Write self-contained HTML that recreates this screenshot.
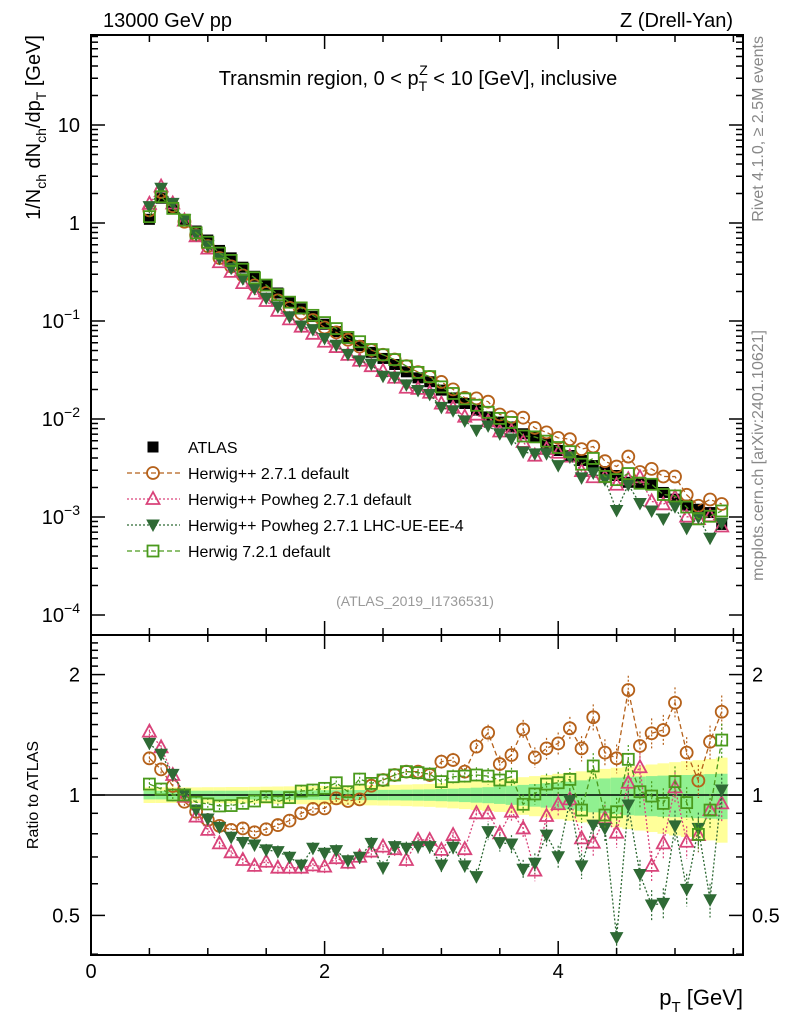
<!DOCTYPE html>
<html><head><meta charset="utf-8"><style>
body{margin:0;background:#fff;}
svg{display:block;font-family:"Liberation Sans",sans-serif;}
</style></head><body>
<svg id="c" width="786" height="1024" xmlns="http://www.w3.org/2000/svg"></svg>
<script>
const xs = [0.5,0.6,0.7,0.8,0.9,1.0,1.1,1.2,1.3,1.4,1.5,1.6,1.7,1.8,1.9,2.0,2.1,2.2,2.3,2.4,2.5,2.6,2.7,2.8,2.9,3.0,3.1,3.2,3.3,3.4,3.5,3.6,3.7,3.8,3.9,4.0,4.1,4.2,4.3,4.4,4.5,4.6,4.7,4.8,4.9,5.0,5.1,5.2,5.3,5.4];
const atlas = [1.09,1.79,1.41,1.07,0.828,0.67,0.525,0.441,0.354,0.286,0.235,0.193,0.158,0.133,0.111,0.0927,0.078,0.0667,0.0561,0.0479,0.0415,0.036,0.0303,0.0263,0.024,0.0197,0.0164,0.0144,0.0123,0.0105,0.0093,0.0083,0.00707,0.00653,0.00558,0.00477,0.00424,0.00377,0.00335,0.00291,0.00265,0.00226,0.00217,0.00217,0.00178,0.00152,0.00132,0.0012,0.00111,0.00084];
const rHpp = [1.235,1.159,1.053,0.962,0.908,0.866,0.837,0.818,0.825,0.807,0.821,0.841,0.863,0.900,0.923,0.926,0.981,0.966,0.975,1.055,1.090,1.122,1.144,1.144,1.122,1.212,1.223,1.144,1.321,1.431,1.195,1.259,1.459,1.242,1.308,1.346,1.468,1.308,1.564,1.276,1.235,1.83,1.326,1.427,1.454,1.701,1.276,1.086,1.359,1.615];
const rPow = [1.440,1.316,1.122,0.990,0.883,0.818,0.757,0.719,0.688,0.665,0.681,0.658,0.658,0.658,0.667,0.662,0.695,0.677,0.701,0.722,0.743,0.732,0.688,0.772,0.772,0.729,0.794,0.732,0.900,0.900,0.802,0.908,0.825,0.647,0.886,0.948,0.975,0.779,0.760,0.875,0.805,1.073,1.173,0.665,0.757,1.045,0.764,0.794,0.917,0.953];
const rLhc = [1.346,1.264,1.126,1.006,0.917,0.871,0.830,0.784,0.761,0.750,0.729,0.722,0.699,0.668,0.736,0.715,0.726,0.685,0.699,0.757,0.658,0.743,0.736,0.743,0.743,0.668,0.740,0.665,0.625,0.810,0.760,0.754,0.652,0.675,0.794,0.701,0.968,0.665,0.841,0.825,0.440,0.944,0.633,0.531,0.536,0.837,0.581,0.825,0.547,1.029];
const rH7 = [1.065,1.035,1.0,1.0,0.959,0.950,0.939,0.941,0.953,0.966,0.990,0.962,0.985,1.023,1.029,1.039,1.073,1.019,1.096,1.069,1.090,1.122,1.144,1.137,1.128,1.080,1.111,1.115,1.122,1.115,1.090,1.111,0.948,1.006,1.065,1.073,1.094,0.917,1.182,0.891,0.908,1.228,1.019,0.994,0.953,1.080,0.957,0.797,0.917,1.372];
const statErr = [.025,.025,.025,.025,.025,.025,.025,.025,.025,.026,.026,.026,.027,.027,.027,.028,.028,.028,.029,.029,.030,.030,.031,.032,.033,.035,.037,.040,.043,.046,.050,.055,.060,.065,.070,.075,.080,.088,.095,.100,.105,.110,.112,.115,.118,.120,.122,.125,.128,.130];
const totErr = [.045,.045,.045,.045,.045,.046,.046,.047,.047,.048,.049,.050,.051,.052,.053,.054,.055,.056,.057,.058,.059,.060,.062,.064,.066,.070,.074,.078,.083,.088,.093,.100,.108,.115,.122,.130,.138,.146,.155,.162,.170,.178,.185,.192,.200,.208,.215,.222,.230,.240];
const xTicks = [0,2,4];
const yDecades = [-4,-3,-2,-1,0,1];
const ratioTicks = [0.5,1,2];

const NS="http://www.w3.org/2000/svg";
const svg=document.getElementById('c');
function el(t,a,p){const e=document.createElementNS(NS,t);for(const k in a)e.setAttribute(k,a[k]);(p||svg).appendChild(e);return e;}
const L=91,R=743,T=35,MB=635,RB=955;
const X=v=>L+v*116.8;
const Y=v=>223-98*Math.log10(v);
const RY=v=>795-400*Math.log10(v);
const C={hpp:'#b5611a',pow:'#d9437a',lhc:'#2f6a35',h7:'#4a9a1c'};

// clip
const defs=el('defs',{});
const cp1=el('clipPath',{id:'cm'},defs);el('rect',{x:L,y:T,width:R-L,height:MB-T},cp1);
const cp2=el('clipPath',{id:'cr'},defs);el('rect',{x:L,y:MB,width:R-L,height:RB-MB},cp2);

// ratio band
const gb=el('g',{'clip-path':'url(#cr)'});


xs.forEach((x,i)=>{
  el('rect',{x:X(x-0.05),width:X(0.1)-L,y:RY(1+totErr[i]),height:RY(1-totErr[i])-RY(1+totErr[i]),fill:'#ffff99'},gb);
});
xs.forEach((x,i)=>{
  el('rect',{x:X(x-0.05),width:X(0.1)-L,y:RY(1+statErr[i]),height:RY(1-statErr[i])-RY(1+statErr[i]),fill:'#90f090'},gb);
});
el('line',{x1:L,x2:R,y1:RY(1),y2:RY(1),stroke:'#000','stroke-width':1.5});

function marker(g,type,cx,cy,col){
  if(type==='sq') el('rect',{x:cx-5.5,y:cy-5.5,width:11,height:11,fill:'none',stroke:col,'stroke-width':1.8},g);
  else if(type==='ci') el('circle',{cx,cy,r:6,fill:'none',stroke:col,'stroke-width':1.8},g);
  else if(type==='tu') el('polygon',{points:`${cx},${cy-7} ${cx-6.5},${cy+5} ${cx+6.5},${cy+5}`,fill:'none',stroke:col,'stroke-width':1.8},g);
  else if(type==='td') el('polygon',{points:`${cx-6},${cy-5} ${cx+6},${cy-5} ${cx},${cy+6}`,fill:col,stroke:col,'stroke-width':1},g);
  else if(type==='bs') el('rect',{x:cx-5.5,y:cy-5.5,width:11,height:11,fill:'#000'},g);
}
const series=[
 {name:'herwigpp-271',r:rHpp,col:C.hpp,m:'ci',dash:'5,3'},
 {name:'herwigpp-powheg-default',r:rPow,col:C.pow,m:'tu',dash:'2,2'},
 {name:'herwigpp-powheg-lhc-ue',r:rLhc,col:C.lhc,m:'td',dash:'2,2'},
 {name:'herwig7-default',r:rH7,col:C.h7,m:'sq',dash:'5,3'}
];
// main plot data
const gm=el('g',{'clip-path':'url(#cm)'});
const ga=el('g',{},gm);


xs.forEach((x,i)=>{
  el('line',{x1:X(x),x2:X(x),y1:Y(atlas[i]*1.05),y2:Y(atlas[i]*0.95),stroke:'#000','stroke-width':1},ga);
  marker(ga,'bs',X(x),Y(atlas[i]));
});
series.forEach(s=>{
  const g=el('g',{},gm);
  
  
  el('polyline',{points:xs.map((x,i)=>X(x)+','+Y(atlas[i]*s.r[i])).join(' '),fill:'none',stroke:s.col,'stroke-width':1.3,'stroke-dasharray':s.dash},g);
  xs.forEach((x,i)=>marker(g,s.m,X(x),Y(atlas[i]*s.r[i]),s.col));
});
// ratio series
const gr=el('g',{'clip-path':'url(#cr)'});
series.forEach(s=>{
  const g=el('g',{},gr);
  
  
  el('polyline',{points:xs.map((x,i)=>X(x)+','+RY(s.r[i])).join(' '),fill:'none',stroke:s.col,'stroke-width':1.3,'stroke-dasharray':s.dash},g);
  xs.forEach((x,i)=>{
    const e=0.02+statErr[i]*0.6;
    el('line',{x1:X(x),x2:X(x),y1:RY(s.r[i]*(1+e)),y2:RY(s.r[i]*(1-e)),stroke:s.col,'stroke-width':1.2,'stroke-dasharray':'2,2'},g);
    marker(g,s.m,X(x),RY(s.r[i]),s.col);
  });
});

// frames
el('rect',{x:L,y:T,width:R-L,height:MB-T,fill:'none',stroke:'#000','stroke-width':2});
el('rect',{x:L,y:MB,width:R-L,height:RB-MB,fill:'none',stroke:'#000','stroke-width':2});
// x ticks
for(let v=0;v<=5.5;v+=0.5){
  const maj=Math.abs(v%2)<1e-9, len=maj?14:7;
  [[T,1],[MB,-1],[MB,1],[RB,-1]].forEach(([y,d])=>el('line',{x1:X(v),x2:X(v),y1:y,y2:y+d*len,stroke:'#000','stroke-width':1.5}));
}
xTicks.forEach(v=>{
  const t=el('text',{x:X(v),y:978,'font-size':20,'text-anchor':'middle'});t.textContent=v;
  
  
});
// main y ticks
yDecades.forEach(d=>{
  for(let k=1;k<=9;k++){
    const y=223-98*(d+Math.log10(k)); if(y<T||y>MB) continue;
    const len=k===1?14:7;
    el('line',{x1:L,x2:L+len,y1:y,y2:y,stroke:'#000','stroke-width':1.5});
    el('line',{x1:R,x2:R-len,y1:y,y2:y,stroke:'#000','stroke-width':1.5});
  }
  const t=el('text',{x:80,y:223-98*d+7,'font-size':20,'text-anchor':'end'});
  
  
  if(d===0) t.textContent='1'; else if(d===1) t.textContent='10';
  else { t.innerHTML='10<tspan dy="-9" font-size="14">'+(d===-1?'−1':'−'+(-d))+'</tspan>'; }
});
// ratio ticks
[0.4,0.5,0.6,0.7,0.8,0.9,1,1.1,1.2,1.3,1.4,1.5,1.6,1.7,1.8,1.9,2,2.1,2.2,2.3,2.4].forEach(v=>{
  const y=RY(v); if(y<MB||y>RB) return;
  const len=(v===0.5||v===1||v===2)?14:7;
  el('line',{x1:L,x2:L+len,y1:y,y2:y,stroke:'#000','stroke-width':1.5});
  el('line',{x1:R,x2:R-len,y1:y,y2:y,stroke:'#000','stroke-width':1.5});
});
ratioTicks.forEach(v=>{
  [[80,'end'],[752,'start']].forEach(([x,a])=>{
    const t=el('text',{x,y:RY(v)+7,'font-size':20,'text-anchor':a});t.textContent=v;
    
    
  });
});
function txt(name,attrs,html){const t=el('text',attrs);t.innerHTML=html;return t;}
txt('energy-label',{x:103,y:27,'font-size':20},'13000 GeV pp');
txt('process-label',{x:733,y:27,'font-size':20,'text-anchor':'end'},'Z (Drell-Yan)');
txt('plot-title',{x:418,y:85,'font-size':20,'text-anchor':'middle'},'Transmin region, 0 &lt; p<tspan dy="6" font-size="14">T</tspan><tspan dy="-16" dx="-8" font-size="14">Z</tspan><tspan dy="10"> &lt; 10 [GeV], inclusive</tspan>');
txt('y-axis-title',{x:0,y:0,'font-size':20,'text-anchor':'end',transform:'translate(40,35) rotate(-90)'},'1/N<tspan dy="6" font-size="14">ch</tspan><tspan dy="-6"> dN</tspan><tspan dy="6" font-size="14">ch</tspan><tspan dy="-6">/dp</tspan><tspan dy="6" font-size="14">T</tspan><tspan dy="-6"> [GeV]</tspan>');
txt('ratio-axis-title',{x:0,y:0,'font-size':16,'text-anchor':'middle',transform:'translate(38,795) rotate(-90)'},'Ratio to ATLAS');
txt('x-axis-title',{x:743,y:1005,'font-size':22,'text-anchor':'end'},'p<tspan dy="7" font-size="15">T</tspan><tspan dy="-7"> [GeV]</tspan>');
txt('rivet-label',{x:0,y:0,'font-size':16,fill:'#888','text-anchor':'end',transform:'translate(763,36) rotate(-90)'},'Rivet 4.1.0, ≥ 2.5M events');
txt('mcplots-label',{x:0,y:0,'font-size':16,fill:'#888','text-anchor':'end',transform:'translate(763,330) rotate(-90)'},'mcplots.cern.ch [arXiv:2401.10621]');
txt('analysis-id',{x:415,y:606,'font-size':14,fill:'#999','text-anchor':'middle'},'(ATLAS_2019_I1736531)');
// legend
const leg=[['ATLAS','bs','#000',null],['Herwig++ 2.7.1 default','ci',C.hpp,'5,3'],['Herwig++ Powheg 2.7.1 default','tu',C.pow,'2,2'],['Herwig++ Powheg 2.7.1 LHC-UE-EE-4','td',C.lhc,'2,2'],['Herwig 7.2.1 default','sq',C.h7,'5,3']];
leg.forEach((l,i)=>{
  const y=447+i*26;
  const g=el('g',{});
  
  
  if(l[3]) el('line',{x1:127,x2:180,y1:y,y2:y,stroke:l[2],'stroke-width':1.3,'stroke-dasharray':l[3]},g);
  marker(g,l[1],153,y,l[2]);
  const t=el('text',{x:188,y:y+6,'font-size':16},g);t.textContent=l[0];
});
</script>
</body></html>
